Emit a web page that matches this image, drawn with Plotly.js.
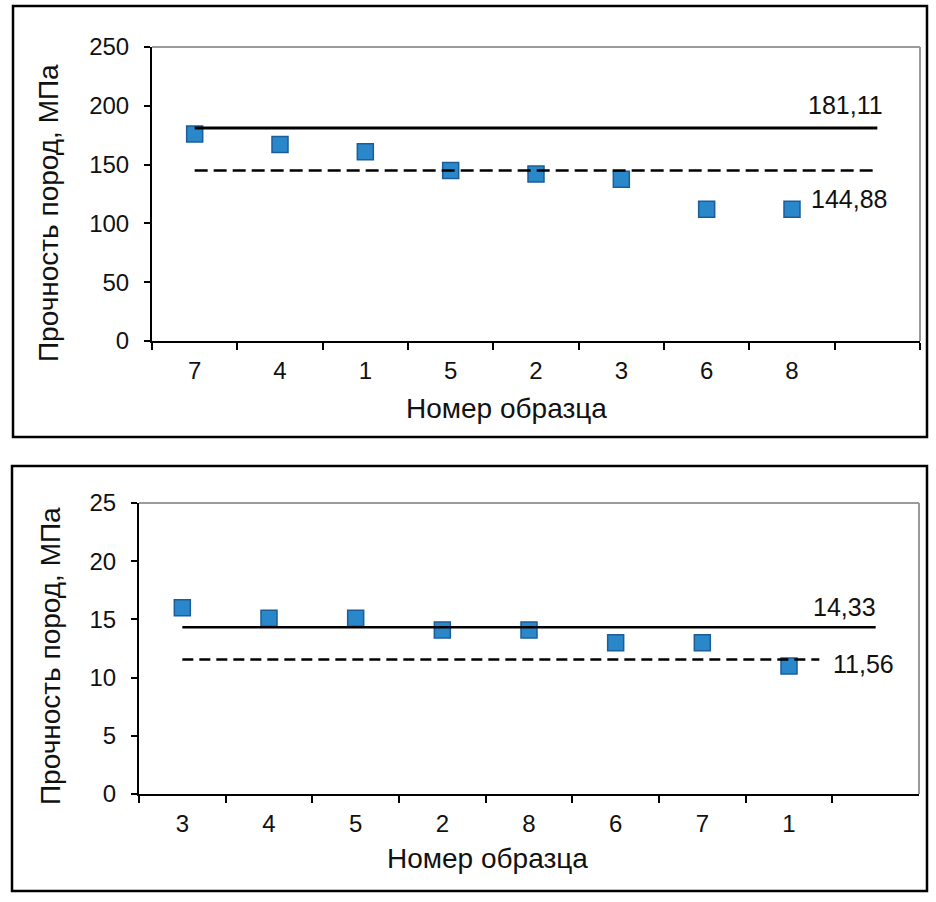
<!DOCTYPE html>
<html>
<head>
<meta charset="utf-8">
<script src="https://cdn.plot.ly/plotly-3.0.1.min.js"></script>
<style>html,body{margin:0;padding:0;background:#fff;}#chart{width:936px;height:902px;}</style>
</head>
<body>
<div id="chart"></div>
<script>
// ---- data ----
const topCategories = ["7", "4", "1", "5", "2", "3", "6", "8"];
const topValues = [176, 167, 161, 145, 142, 137.5, 112, 112];
const topMax = 181.11;
const topMean = 144.88;
const topMaxLabel = "181,11";
const topMeanLabel = "144,88";
const topYTicks = [0, 50, 100, 150, 200, 250];

const botCategories = ["3", "4", "5", "2", "8", "6", "7", "1"];
const botValues = [16, 15.1, 15.1, 14.1, 14.1, 13, 13, 11];
const botMax = 14.33;
const botMean = 11.56;
const botMaxLabel = "14,33";
const botMeanLabel = "11,56";
const botYTicks = [0, 5, 10, 15, 20, 25];

const yTitle = "Прочность пород, МПа";
const xTitle = "Номер образца";

// ---- layout helpers ----
const W = 936, H = 902;
const px = v => v / W;
const py = v => 1 - v / H;
const FONT = "Liberation Sans, Arial, sans-serif";
const BLANK = " ";

const markerStyle = {symbol: "square", size: 16, color: "#2A88CA", line: {color: "#1A5D98", width: 1.5}};

const traces = [
  {type: "scatter", mode: "markers", x: topCategories, y: topValues, xaxis: "x", yaxis: "y", marker: markerStyle, hoverinfo: "x+y"},
  {type: "scatter", mode: "markers", x: botCategories, y: botValues, xaxis: "x2", yaxis: "y2", marker: markerStyle, hoverinfo: "x+y"}
];

function xAxis(domain, cats, anchor) {
  return {
    domain: domain, anchor: anchor, type: "category",
    categoryorder: "array", categoryarray: cats.concat([BLANK]),
    range: [-0.5, cats.length + 0.5],
    showgrid: false, zeroline: false,
    showline: true, linecolor: "#000", linewidth: 2,
    ticks: "outside", tickson: "boundaries", ticklen: 7, tickwidth: 2, tickcolor: "#000",
    tickfont: {family: FONT, size: 24, color: "#111"},
    ticklabelstandoff: 7,
    fixedrange: true
  };
}
function yAxis(domain, ticks, anchor) {
  return {
    domain: domain, anchor: anchor,
    range: [ticks[0], ticks[ticks.length - 1]],
    tickvals: ticks, ticktext: ticks.map(String),
    showgrid: false, zeroline: false,
    showline: true, linecolor: "#000", linewidth: 2,
    ticks: "outside", ticklen: 6, tickwidth: 2, tickcolor: "#000",
    tickfont: {family: FONT, size: 24, color: "#111"},
    ticklabelstandoff: 10,
    fixedrange: true
  };
}

const layout = {
  width: W, height: H,
  margin: {l: 0, r: 0, t: 0, b: 0},
  paper_bgcolor: "#fff", plot_bgcolor: "#fff",
  showlegend: false,
  xaxis: xAxis([px(152), px(920)], topCategories, "y"),
  yaxis: yAxis([py(341), py(47)], topYTicks, "x"),
  xaxis2: xAxis([px(139), px(919)], botCategories, "y2"),
  yaxis2: yAxis([py(794), py(503)], botYTicks, "x2"),
  shapes: [
    // outer frames
    {type: "rect", xref: "paper", yref: "paper", x0: px(13), x1: px(927), y0: py(437), y1: py(6), line: {color: "#000", width: 2.5}},
    {type: "rect", xref: "paper", yref: "paper", x0: px(12), x1: px(927), y0: py(891), y1: py(466), line: {color: "#000", width: 2.5}},
    // plot-area borders (top & right, grey)
    {type: "line", xref: "x domain", yref: "y domain", x0: 0, x1: 1, y0: 1, y1: 1, line: {color: "#9a9a9a", width: 2}},
    {type: "line", xref: "x domain", yref: "y domain", x0: 1, x1: 1, y0: 0, y1: 1, line: {color: "#9a9a9a", width: 2}},
    {type: "line", xref: "x2 domain", yref: "y2 domain", x0: 0, x1: 1, y0: 1, y1: 1, line: {color: "#9a9a9a", width: 2}},
    {type: "line", xref: "x2 domain", yref: "y2 domain", x0: 1, x1: 1, y0: 0, y1: 1, line: {color: "#9a9a9a", width: 2}},
    // reference lines
    {type: "line", xref: "x", yref: "y", x0: 0, x1: topCategories.length, y0: topMax, y1: topMax, line: {color: "#000", width: 3}},
    {type: "line", xref: "x", yref: "y", x0: 0, x1: topCategories.length, y0: topMean, y1: topMean, line: {color: "#000", width: 2.5, dash: "13px,6px"}},
    {type: "line", xref: "x2", yref: "y2", x0: 0, x1: botCategories.length, y0: botMax, y1: botMax, line: {color: "#000", width: 2.5}},
    {type: "line", xref: "x2", yref: "y2", x0: 0, x1: botCategories.length - 0.65, y0: botMean, y1: botMean, line: {color: "#000", width: 2.5, dash: "11px,6px"}}
  ],
  annotations: [
    {xref: "x", yref: "y", x: topCategories.length, y: topMax, text: topMaxLabel, showarrow: false, xanchor: "right", yanchor: "middle", xshift: 8, yshift: 23, font: {family: FONT, size: 25, color: "#111"}},
    {xref: "x", yref: "y", x: topCategories.length, y: topMean, text: topMeanLabel, showarrow: false, xanchor: "right", yanchor: "middle", xshift: 12, yshift: -28, font: {family: FONT, size: 25, color: "#111"}},
    {xref: "x2", yref: "y2", x: botCategories.length, y: botMax, text: botMaxLabel, showarrow: false, xanchor: "right", yanchor: "middle", xshift: 2, yshift: 20, font: {family: FONT, size: 25, color: "#111"}},
    {xref: "x2", yref: "y2", x: botCategories.length - 0.65, y: botMean, text: botMeanLabel, showarrow: false, xanchor: "left", yanchor: "middle", xshift: 12, yshift: -5, font: {family: FONT, size: 25, color: "#111"}},
    // axis titles
    {xref: "paper", yref: "paper", x: px(49), y: py(213), text: yTitle, textangle: -90, showarrow: false, xanchor: "center", yanchor: "middle", font: {family: FONT, size: 28, color: "#111"}},
    {xref: "paper", yref: "paper", x: px(507), y: py(408), text: xTitle, showarrow: false, xanchor: "center", yanchor: "middle", font: {family: FONT, size: 28, color: "#111"}},
    {xref: "paper", yref: "paper", x: px(50), y: py(656), text: yTitle, textangle: -90, showarrow: false, xanchor: "center", yanchor: "middle", font: {family: FONT, size: 28, color: "#111"}},
    {xref: "paper", yref: "paper", x: px(487), y: py(858), text: xTitle, showarrow: false, xanchor: "center", yanchor: "middle", font: {family: FONT, size: 28, color: "#111"}}
  ]
};

Plotly.newPlot("chart", traces, layout, {staticPlot: true, displayModeBar: false});
</script>
</body>
</html>
